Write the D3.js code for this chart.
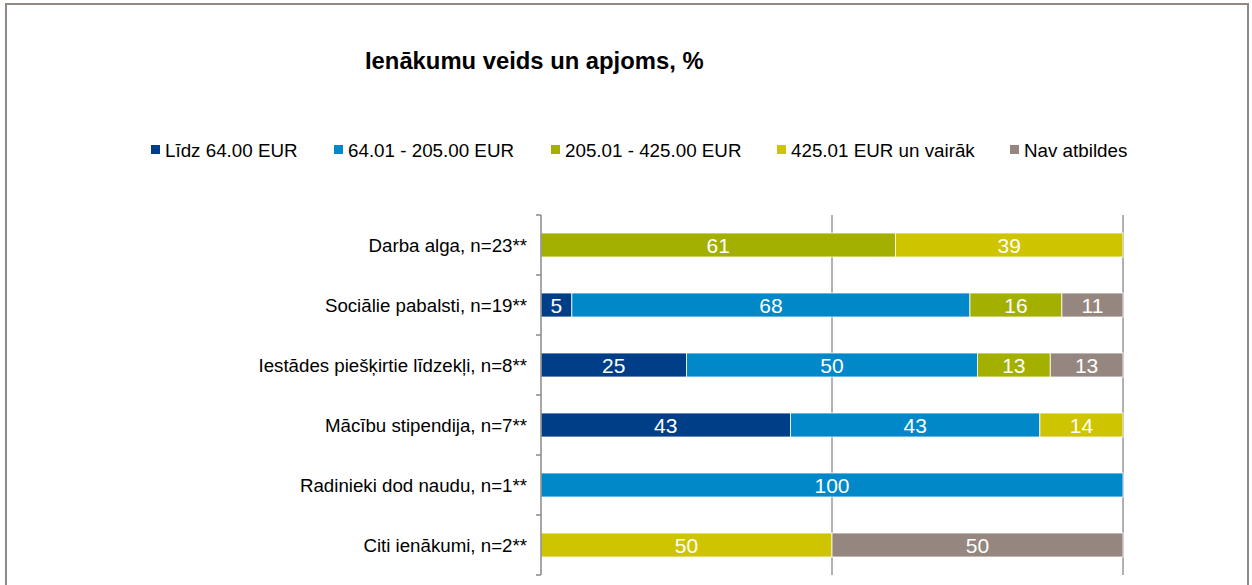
<!DOCTYPE html>
<html><head><meta charset="utf-8">
<script src="https://cdn.jsdelivr.net/npm/d3@7"></script>
<style>body{margin:0;background:#fff;font-family:"Liberation Sans",Arial,sans-serif}</style>
</head><body>
<svg id="c" width="1252" height="585"></svg>
<script>
const categories = ["Darba alga, n=23**","Sociālie pabalsti, n=19**","Iestādes piešķirtie līdzekļi, n=8**","Mācību stipendija, n=7**","Radinieki dod naudu, n=1**","Citi ienākumi, n=2**"];
const seriesNames = ["Līdz 64.00 EUR","64.01 - 205.00 EUR","205.01 - 425.00 EUR","425.01 EUR un vairāk","Nav atbildes"];
const colors = ["#003f87","#0088c9","#a3b000","#cfc400","#958780"];
const s1 = [0,5.3,25,42.9,0,0];
const s2 = [0,68.4,50,42.9,100,0];
const s3 = [60.9,15.8,12.5,0,0,0];
const s4 = [39.1,0,0,14.3,0,50];
const s5 = [0,10.5,12.5,0,0,50];
const seriesVals = [s1,s2,s3,s4,s5];
const xTicks = [0,50,100];

const svg = d3.select("#c");
svg.append("rect").attr("x",6).attr("y",4).attr("width",1242).attr("height",600)
  .attr("fill","none").attr("stroke","#918a84").attr("stroke-width",2);

svg.append("text").attr("x",365).attr("y",69).attr("font-size",23.8).attr("font-weight","bold")
  .attr("fill","#000").text("Ienākumu veids un apjoms, %");

const legX = [151,334,551,777,1010];
seriesNames.forEach((n,i)=>{
  const g = svg.append("g").attr("transform",`translate(${legX[i]},150)`);
  g.append("rect").attr("x",0).attr("y",-5).attr("width",9).attr("height",9).attr("fill",colors[i]);
  g.append("text").attr("x",14).attr("y",6.5).attr("font-size",18.8).attr("fill","#000").text(n);
});

const x = d3.scaleLinear().domain([0,100]).range([541,1123]);
const y = d3.scaleBand().domain(categories).range([215,575]).paddingInner(0.6).paddingOuter(0.3);

svg.append("g").selectAll("line").data(xTicks.slice(1)).join("line")
  .attr("x1",d=>x(d)).attr("x2",d=>x(d)).attr("y1",215).attr("y2",575)
  .attr("stroke","#999").attr("stroke-width",1.5);

const stackData = categories.map((c,i)=>{
  const o={cat:c};
  const tot = d3.sum(seriesVals, s=>s[i]);
  seriesNames.forEach((s,j)=>{o[s]=seriesVals[j][i]*100/tot; o["_"+s]=seriesVals[j][i];});
  return o;
});
const stack = d3.stack().keys(seriesNames)(stackData);
stack.forEach((layer,j)=>{
  const g = svg.append("g");
  layer.forEach(d=>{
    const raw = d.data["_"+seriesNames[j]];
    if(raw<=0) return;
    const cat = d.data.cat;
    g.append("rect").attr("x",x(d[0])).attr("y",y(cat)).attr("width",x(d[1])-x(d[0])).attr("height",y.bandwidth())
      .attr("fill",colors[j]).attr("stroke","#fff").attr("stroke-width",0.8);
    g.append("text").attr("x",(x(d[0])+x(d[1]))/2).attr("y",y(cat)+y.bandwidth()/2+7.5)
      .attr("text-anchor","middle").attr("font-size",21).attr("fill","#fff").text(Math.round(raw));
  });
});

svg.append("line").attr("x1",541).attr("x2",541).attr("y1",215).attr("y2",575).attr("stroke","#888").attr("stroke-width",1.5);
const bounds = d3.range(categories.length+1).map(i=>215+i*60);
svg.append("g").selectAll("line").data(bounds).join("line")
  .attr("x1",536).attr("x2",541).attr("y1",d=>d).attr("y2",d=>d).attr("stroke","#888").attr("stroke-width",1.5);
svg.append("g").selectAll("text").data(categories).join("text")
  .attr("x",527).attr("y",d=>y(d)+y.bandwidth()/2+6.5).attr("text-anchor","end")
  .attr("font-size",18.7).attr("fill","#000").text(d=>d);
</script>
</body></html>
